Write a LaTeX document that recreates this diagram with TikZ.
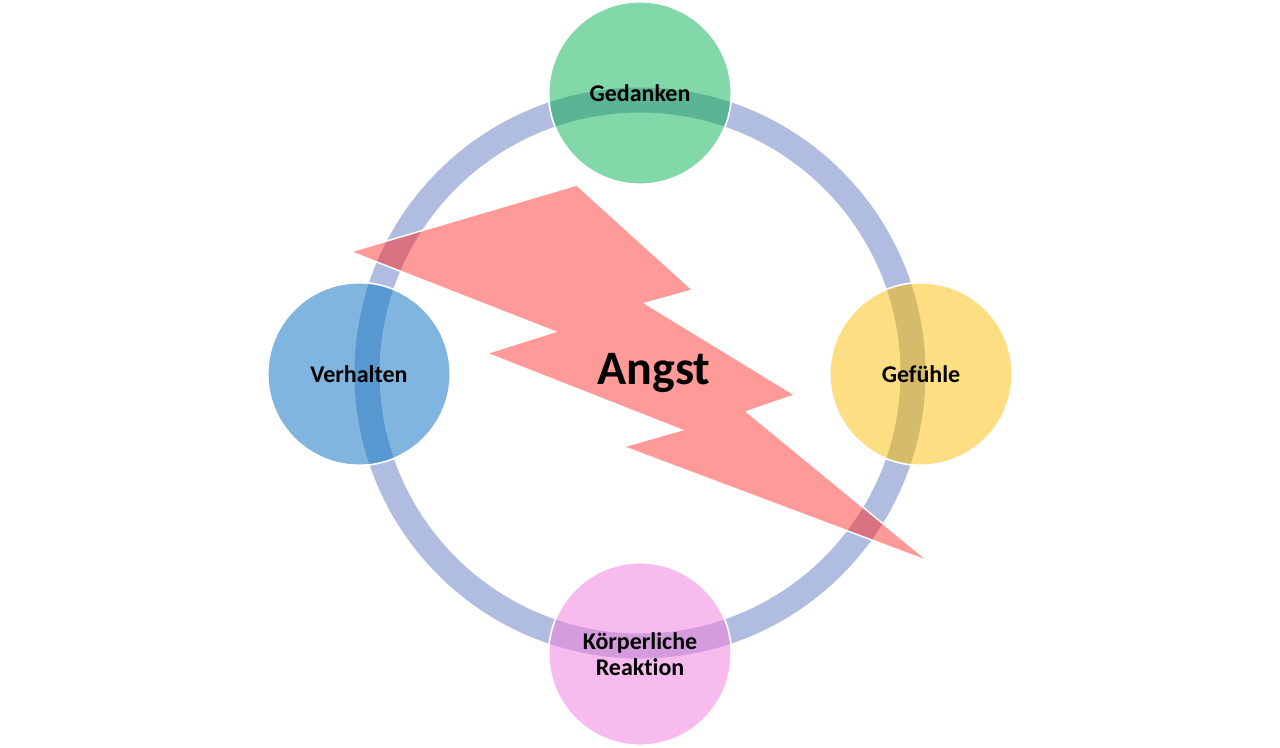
\documentclass[tikz,border=0pt]{standalone}
\usepackage{fontspec}
\setmainfont{Carlito}[Ligatures=NoCommon]
\usetikzlibrary{positioning}
\definecolor{ringblue}{HTML}{B0BCE0}
\definecolor{gedgreen}{HTML}{82D8A9}
\definecolor{gedband}{HTML}{5BB594}
\definecolor{gefyellow}{HTML}{FEDE82}
\definecolor{gefband}{HTML}{D6BC6A}
\definecolor{verblue}{HTML}{7FB5DE}
\definecolor{verband}{HTML}{5698CF}
\definecolor{koerpink}{HTML}{F7BBEE}
\definecolor{koerband}{HTML}{D49CDD}
\definecolor{boltred}{HTML}{FF9A98}
\definecolor{boltband}{HTML}{D87282}

\begin{document}
\begin{tikzpicture}[x=0.75pt, y=-0.75pt,
		% Kreise fuer die vier Bereiche
		bubble/.style={
			circle,
			draw=white,
			line width=1.1pt,
			minimum size=137pt,
			inner sep=0pt,
			align=center,
			font=\bfseries\fontsize{18}{20}\selectfont
		},
		% Der Ring, der die Kreise verbindet
		ringband/.style={
			line width=18.75pt,
			draw=#1
		},
		% Blitz in der Mitte
		boltshape/.style={
			insert path={(350.5,251.7) -- (576.7,185) -- (692.7,290) -- (645,303.3) -- (795,395) -- (746.7,411.7) -- (929,561.5) -- (623.3,446.7) -- (681.7,430) -- (486.7,353.3) -- (555,331.7) -- cycle}
		}
		]
		\useasboundingbox (0,0) rectangle (1280,748);
		
		% Mittelpunkt des Rings
		\coordinate (ctr) at (640,373);
		\draw [ringband=ringblue] (ctr) circle [radius=204.75pt];
		
		% Die Kreise
		\node (ged) [bubble, fill=gedgreen] at (640,93) {};
		\node (gef) [bubble, fill=gefyellow] at (921,374) {};
		\node (ver) [bubble, fill=verblue] at (359,374) {};
		\node (koer) [bubble, fill=koerpink] at (640,654) {};
		
		% Ring im Inneren der Kreise dunkler
		\foreach \c/\col in {ged/gedband, gef/gefband, ver/verband, koer/koerband} {
			\begin{scope}
				\clip (\c.center) circle [radius=68.5pt];
				\draw [ringband=\col] (ctr) circle [radius=204.75pt];
			\end{scope}
			\draw [white, line width=1.1pt] (\c.center) circle [radius=68.5pt];
		}
		
		% Blitz
		\fill [boltred, boltshape];
		\begin{scope}
			\clip [boltshape];
			\draw [ringband=boltband] (ctr) circle [radius=204.75pt];
		\end{scope}
		\draw [white, line width=1.1pt, line join=miter, boltshape];
		
		% Beschriftungen
		\node (angst) [font=\bfseries\fontsize{36}{40}\selectfont] at (654,373) {Angst};
		\node [bubble, draw=none] at (ged) {Gedanken};
		\node [bubble, draw=none] at (gef) {Gefühle};
		\node [bubble, draw=none] at (ver) {Verhalten};
		\node [bubble, draw=none] at (koer) {Körperliche\\Reaktion};
		
	\end{tikzpicture}
\end{document}
